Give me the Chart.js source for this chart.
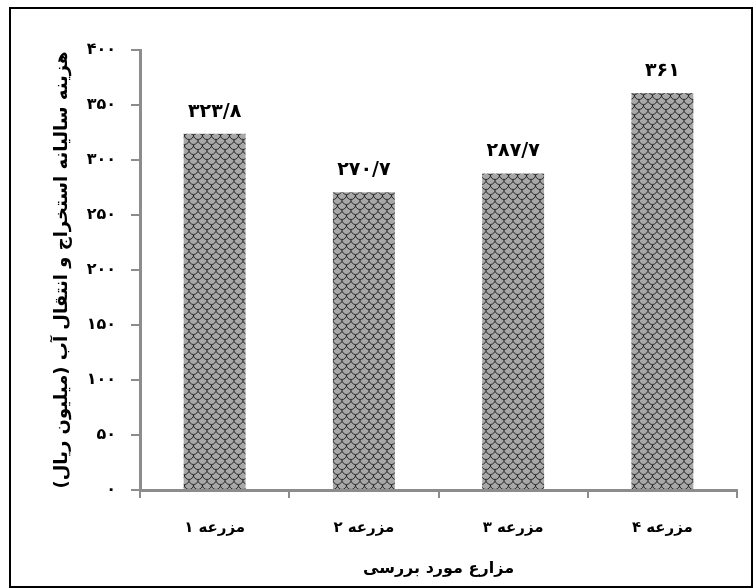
<!DOCTYPE html>
<html>
<head>
    <meta charset="utf-8">
    <title>هزینه سالیانه استخراج و انتقال آب</title>
    <script src="https://cdn.jsdelivr.net/npm/chart.js"></script>
    <style>
        body { margin: 0; background: #fff; }
        #wrap { width: 753px; height: 588px; }
    </style>
</head>
<body>
    <div id="wrap"><canvas id="costChart" width="753" height="588"></canvas></div>

    <script>
        const farms = ['مزرعه ۱', 'مزرعه ۲', 'مزرعه ۳', 'مزرعه ۴'];
        const costs = [323.8, 270.7, 287.7, 361];
        const yTitle = 'هزینه سالیانه استخراج و انتقال آب (میلیون ریال)';
        const xTitle = 'مزارع مورد بررسی';

        const FONT = "'DejaVu Sans', sans-serif";
        const faDigits = '۰۱۲۳۴۵۶۷۸۹';
        function toFa(v) {
            return String(v).replace('.', '/').replace(/[0-9]/g, d => faDigits[d]);
        }

        // gray fill with dark scale pattern
        function makePattern() {
            const c = document.createElement('canvas');
            c.width = 9; c.height = 10;
            const g = c.getContext('2d');
            g.fillStyle = '#a8a8a8';
            g.fillRect(0, 0, 9, 10);
            g.strokeStyle = '#1a1a1a';
            g.lineWidth = 0.9;
            g.beginPath();
            g.arc(4.5, 0, 4.5, 0, Math.PI);
            g.stroke();
            g.beginPath();
            g.arc(0, 5, 4.5, 0, Math.PI);
            g.stroke();
            g.beginPath();
            g.arc(9, 5, 4.5, 0, Math.PI);
            g.stroke();
            g.beginPath();
            g.arc(4.5, 10, 4.5, Math.PI, 2 * Math.PI, true);
            g.stroke();
            return g.createPattern(c, 'repeat');
        }

        const frame = {
            id: 'frame',
            afterDraw(chart) {
                const ctx = chart.ctx;
                ctx.save();
                ctx.strokeStyle = '#000';
                ctx.lineWidth = 2;
                ctx.strokeRect(10, 8, 742, 579);
                ctx.restore();
            }
        };

        const valueLabels = {
            id: 'valueLabels',
            afterDatasetsDraw(chart) {
                const ctx = chart.ctx;
                const meta = chart.getDatasetMeta(0);
                ctx.save();
                ctx.font = 'bold 19px ' + FONT;
                ctx.fillStyle = '#000';
                ctx.textAlign = 'center';
                ctx.textBaseline = 'middle';
                meta.data.forEach((bar, i) => {
                    ctx.fillText(toFa(costs[i]), bar.x, bar.y - 22);
                });
                ctx.restore();
            }
        };

        const axisGray = '#8c8c8c';

        new Chart(document.getElementById('costChart').getContext('2d'), {
            type: 'bar',
            data: {
                labels: farms,
                datasets: [{
                    data: costs,
                    backgroundColor: makePattern(),
                    borderWidth: 0,
                    barPercentage: 0.415,
                    categoryPercentage: 1
                }]
            },
            options: {
                responsive: false,
                animation: false,
                layout: { padding: { left: 0, top: 50, right: 16, bottom: 0 } },
                plugins: { legend: { display: false }, tooltip: { enabled: false } },
                scales: {
                    x: {
                        grid: { drawOnChartArea: false, drawTicks: true, tickLength: 8, color: axisGray, lineWidth: 2 },
                        border: { display: true, color: axisGray, width: 3 },
                        ticks: { color: '#000', padding: 21, font: { family: FONT, size: 15, weight: 'bold' } },
                        title: { display: true, text: xTitle, color: '#000', padding: { top: 0, bottom: 10 },
                                 font: { family: FONT, size: 16, weight: 'bold' } },
                        afterFit(scale) { scale.height = 98; }
                    },
                    y: {
                        min: 0,
                        max: 400,
                        grid: { drawOnChartArea: false, drawTicks: true, tickLength: 9, color: axisGray, lineWidth: 2 },
                        border: { display: true, color: axisGray, width: 3 },
                        ticks: { stepSize: 50, color: '#000', padding: 15, callback: v => toFa(v),
                                 font: { family: FONT, size: 16, weight: 'bold' } },
                        title: { display: true, text: yTitle, color: '#000', padding: { top: 52, bottom: 0 },
                                 font: { family: FONT, size: 18, weight: 'bold' } },
                        afterFit(scale) { scale.width = 140; }
                    }
                }
            },
            plugins: [frame, valueLabels]
        });
    </script>
</body>
</html>
